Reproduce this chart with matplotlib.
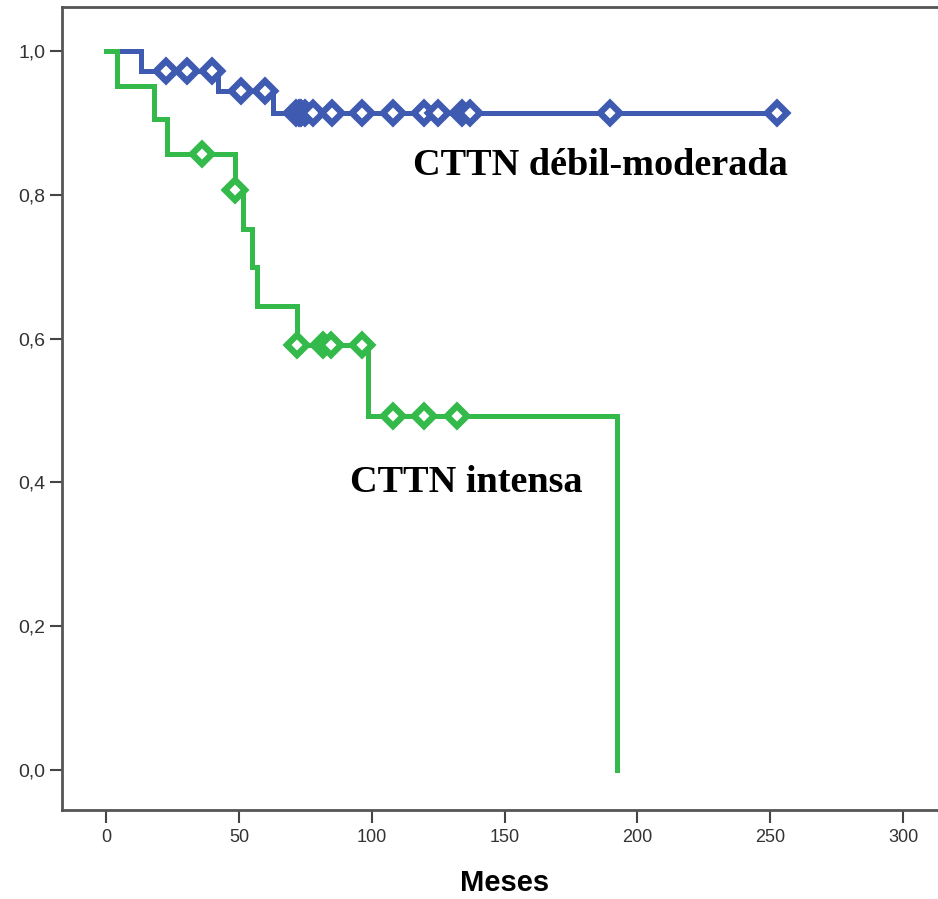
import numpy as np
import matplotlib.pyplot as plt

# Kaplan-Meier curves (months vs. survival)
blue_event_t = [13, 42, 63]
blue_surv = [0.972, 0.944, 0.914]
blue_last_t = 252.5
blue_cens = [22.6, 30.5, 40, 50.8, 59.8, 71.5, 72.5, 73.5, 75, 78, 85,
             96.3, 108, 119.7, 125, 134, 137, 189.7, 252.5]

green_event_t = [4, 18, 23, 48.5, 51.6, 55, 56.8, 72, 98.4, 192.3]
green_surv = [0.952, 0.905, 0.857, 0.807, 0.753, 0.699, 0.645, 0.591, 0.493, 0.0]
green_last_t = 192.3
green_cens = [36, 48.5, 72, 81.7, 84.7, 96.3, 108, 119.7, 132]

x_ticks = [0, 50, 100, 150, 200, 250, 300]
y_ticks = [0.0, 0.2, 0.4, 0.6, 0.8, 1.0]

blue = '#3f5bb1'
green = '#34b94b'


def step_xy(ev_t, surv, last_t):
    xs = [0] + list(ev_t)
    ys = [1.0] + list(surv)
    if last_t > xs[-1]:
        xs.append(last_t)
        ys.append(ys[-1])
    return xs, ys


def surv_at(t, ev_t, surv):
    s = 1.0
    for et, sv in zip(ev_t, surv):
        if et <= t:
            s = sv
    return s


fig = plt.figure(figsize=(9.38, 8.99), dpi=100)
ax = fig.add_axes([0.0661, 0.099, 0.9339, 0.8932])

for ev_t, surv, last_t, cens, col, z in [
        (blue_event_t, blue_surv, blue_last_t, blue_cens, blue, 2),
        (green_event_t, green_surv, green_last_t, green_cens, green, 3)]:
    xs, ys = step_xy(ev_t, surv, last_t)
    ax.step(xs, ys, where='post', color=col, lw=3.6, zorder=z,
            solid_joinstyle='miter')
    cy = [surv_at(t, ev_t, surv) for t in cens]
    ax.plot(cens, cy, ls='none', marker='D', ms=10, mew=4.6,
            mec=col, mfc='white', zorder=z + 0.5)

ax.text(115.5, 0.841, 'CTTN débil-moderada', family='Liberation Serif',
        fontweight='bold', fontsize=27.5, va='center', ha='left')
ax.text(91.8, 0.40, 'CTTN intensa', family='Liberation Serif',
        fontweight='bold', fontsize=27.5, va='center', ha='left')

ax.set_xlim(-16.6, 313.1)
ax.set_ylim(-0.0556, 1.0612)
ax.set_xticks(x_ticks)
ax.set_xticklabels([str(v) for v in x_ticks])
ax.set_yticks(y_ticks)
ax.set_yticklabels([f'{v:.1f}'.replace('.', ',') for v in y_ticks])

for lab in ax.get_xticklabels():
    lab.set_family('Liberation Sans')
    lab.set_fontsize(13)
    lab.set_color('#333333')
for lab in ax.get_yticklabels():
    lab.set_family('Liberation Sans')
    lab.set_fontsize(14)
    lab.set_color('#333333')

ax.tick_params(axis='both', direction='out', length=9, width=1.5,
               color='#444444')
ax.tick_params(axis='x', pad=5)
ax.tick_params(axis='y', pad=3)

for side in ['left', 'bottom', 'top']:
    ax.spines[side].set_color('#555555')
    ax.spines[side].set_linewidth(2)
ax.spines['right'].set_visible(False)

fig.text(505 / 938, 1 - 883 / 899, 'Meses', family='Liberation Sans',
         fontweight='bold', fontsize=21, ha='center', va='center')

fig.savefig('out.png', dpi=100)
